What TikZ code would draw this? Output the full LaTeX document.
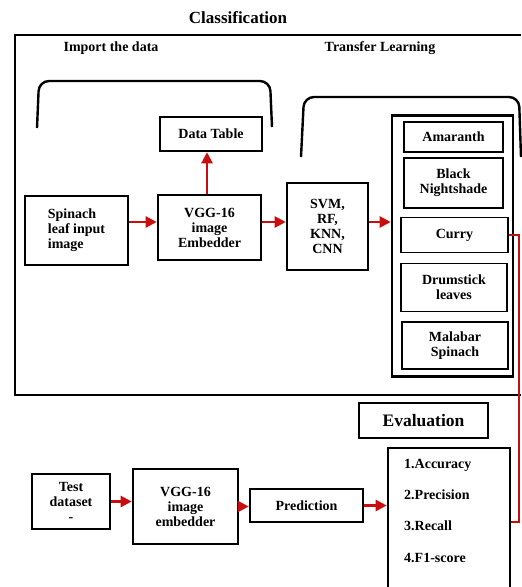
\documentclass[tikz,border=0pt]{standalone}
\usepackage{fontspec}
\setmainfont{Liberation Serif}
\usepackage{tikz}
\usetikzlibrary{arrows.meta,calc}
\definecolor{flowred}{RGB}{200,14,14}
\newcommand{\boxfont}{\bfseries\fontsize{14}{15}\selectfont}

\begin{document}
\begin{tikzpicture}[x=1pt,y=-1pt,
    blk/.style={draw,line width=2.6pt,align=center,inner sep=1pt,font=\boxfont},
    cls/.style={draw,line width=1.2pt,align=center,inner sep=1pt,font=\boxfont},
    lbl/.style={font=\boxfont},
    redarrow/.style={draw=flowred,line width=2.4pt,-{Triangle[length=11pt,width=11pt]}},
    redline/.style={draw=flowred,line width=1.8pt}]
\useasboundingbox (0,0) rectangle (522,587);

% classification frame and its brackets
\node[font=\bfseries\fontsize{17}{19}\selectfont] (title) at (238,18) {Classification};
\draw[line width=2.6pt] (521,35) -- (15,35) -- (15,395) -- (521,395);
\node[lbl] (import) at (111,48) {Import the data};
\node[lbl] (transfer) at (380,48) {Transfer Learning};
\draw[line width=2.4pt,rounded corners=10pt] (37,128) -- (39,81) -- (270,81) -- (272,127);
\draw[line width=2.4pt,rounded corners=10pt] (301,157) -- (304,97) -- (519,97) -- (521,157);

\node[blk,minimum width=102pt,minimum height=34pt] (datatable) at (211,134) {Data Table};
\node[blk,minimum width=103pt,minimum height=69pt,align=left] (spinach) at (76.5,230.5) {Spinach\\leaf input\\image};
\node[blk,minimum width=103pt,minimum height=65pt] (vgg) at (209.5,227.5) {VGG-16\\image\\Embedder};
\node[blk,minimum width=81pt,minimum height=87pt] (svm) at (327.5,226.5) {SVM,\\RF,\\KNN,\\CNN};

% leaf classes
\node[blk,minimum width=121pt,minimum height=261pt] (classes) at (452.5,246) {};
\node[cls,minimum width=99pt,minimum height=30pt] (amaranth) at (453.5,137) {Amaranth};
\node[cls,minimum width=99pt,minimum height=50pt] (nightshade) at (453.5,183) {Black\\Nightshade};
\node[cls,minimum width=107pt,minimum height=35pt] (curry) at (454.5,235) {Curry};
\node[cls,minimum width=106pt,minimum height=48pt] (drumstick) at (454,287.5) {Drumstick\\leaves};
\node[cls,minimum width=106pt,minimum height=47pt] (malabar) at (455,345.5) {Malabar\\Spinach};

\coordinate (row) at (0,222);
\draw[redarrow] (vgg.north -| 207,0) -- (datatable.south -| 207,0);
\draw[redarrow] (spinach.east |- row) -- (vgg.west |- row);
\draw[redarrow] (vgg.east |- row) -- (svm.west |- row);
\draw[redarrow] (svm.east |- row) -- (classes.west |- row);

% evaluation
\node[cls,font=\bfseries\fontsize{17.5}{19}\selectfont,minimum width=129pt,minimum height=35pt] (evaluation) at (423.5,420.5) {Evaluation};
\node[blk,minimum width=122pt,minimum height=152pt] (metrics) at (449,524) {};
\foreach \i/\t/\y in {1/Accuracy/465,2/Precision/495,3/Recall/526,4/F1-score/558}
    \node[lbl,anchor=west,inner sep=0pt] (metric\i) at (404,\y) {\i.\t};

\node[blk,minimum width=78pt,minimum height=55pt] (test) at (71,501.5) {Test\\dataset\\-};
\node[blk,minimum width=105pt,minimum height=75pt] (vggtest) at (185.5,506.5) {VGG-16\\image\\embedder};
\node[blk,minimum width=113pt,minimum height=33pt] (prediction) at (306.5,505.5) {Prediction};

\draw[redarrow] (test.east) -- (vggtest.west |- test.east);
\draw[redarrow] (vggtest.east) -- (prediction.west |- vggtest.east);
\draw[redarrow] (prediction.east) -- (metrics.west |- prediction.east);

\coordinate (turn) at (519,522);
\draw[redline] (curry.east) -| (turn) -- (metrics.east |- turn);
\end{tikzpicture}
\end{document}
